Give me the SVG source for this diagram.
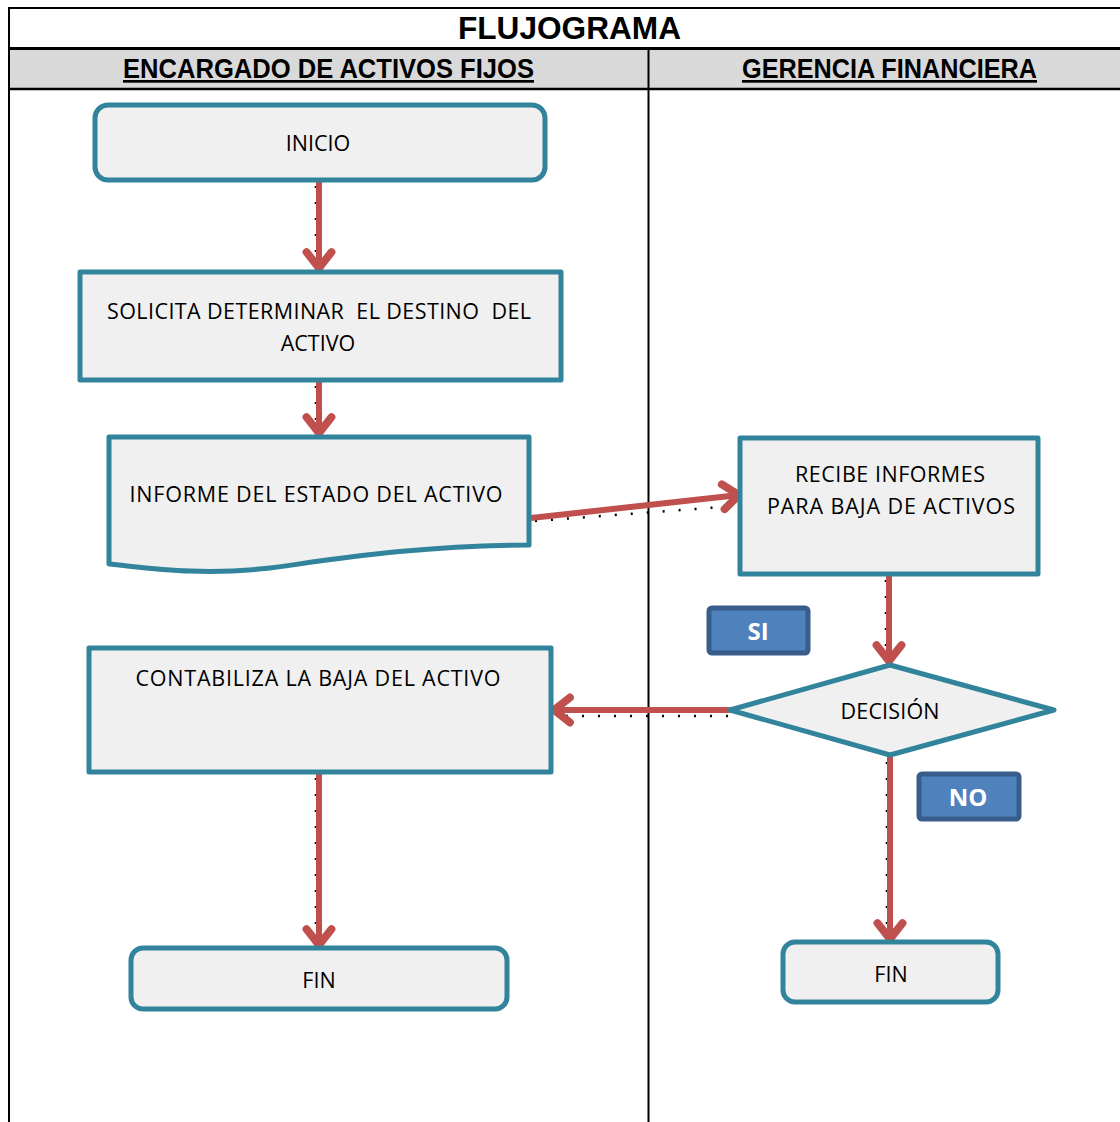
<svg xmlns="http://www.w3.org/2000/svg" width="1120" height="1122" viewBox="0 0 1120 1122">
  <style>
    .frame { fill: none; stroke: #000; stroke-width: 2; }
    .head { fill: #d9d9d9; stroke: none; }
    .title { font-family: "Liberation Sans", Arial, sans-serif; font-weight: bold; font-size: 32px; fill: #000; }
    .lane { font-family: "Liberation Sans", Arial, sans-serif; font-weight: bold; font-size: 27px; fill: #000; text-decoration: underline; }
    .box { fill: #f0f0f0; stroke: #31849b; stroke-width: 5; stroke-linejoin: round; }
    .txt { font-family: "Open Sans", "Liberation Sans", sans-serif; font-size: 21.5px; fill: #000; text-anchor: middle; }
    .tag { fill: #4f81bd; stroke: #385d8a; stroke-width: 5; }
    .tagtxt { font-family: "Open Sans", "Liberation Sans", sans-serif; font-weight: bold; font-size: 24px; fill: #fff; text-anchor: middle; }
    .flow { fill: none; stroke: #c0504d; stroke-width: 6; marker-end: url(#arrow); }
    .shade { fill: none; stroke: #000; stroke-width: 2.5; stroke-dasharray: 2 14; }
  </style>
  <defs>
    <marker id="arrow" markerUnits="userSpaceOnUse" markerWidth="34" markerHeight="34" viewBox="-3 -15 22 30" refX="15" refY="0" orient="auto">
      <path d="M1,-11 L15,0 L1,11" fill="none" stroke="#c0504d" stroke-width="7" stroke-linecap="round" stroke-linejoin="round"/>
    </marker>
  </defs>

  <!-- swimlane table -->
  <g id="table">
    <rect class="head" x="10" y="49" width="1112" height="40"/>
    <line class="frame" x1="9" y1="8" x2="1122" y2="8"/>
    <line class="frame" x1="9" y1="7" x2="9" y2="1122"/>
    <line x1="9" y1="48.5" x2="1122" y2="48.5" stroke="#000" stroke-width="3"/>
    <line x1="9" y1="89" x2="1122" y2="89" stroke="#000" stroke-width="2.5"/>
    <line class="frame" x1="648.5" y1="49" x2="648.5" y2="1122"/>
    <text class="title" x="458" y="39" textLength="223" lengthAdjust="spacingAndGlyphs">FLUJOGRAMA</text>
    <text class="lane" x="123" y="78" textLength="411" lengthAdjust="spacingAndGlyphs">ENCARGADO DE ACTIVOS FIJOS</text>
    <text class="lane" x="742" y="78" textLength="295" lengthAdjust="spacingAndGlyphs">GERENCIA FINANCIERA</text>
  </g>

  <!-- connectors with dotted drop shade -->
  <g id="connectors">
    <line class="shade" x1="316" y1="186" x2="316" y2="262"/>
    <line class="shade" x1="316" y1="386" x2="316" y2="428"/>
    <line class="shade" x1="535" y1="521" x2="735" y2="506"/>
    <line class="shade" x1="886" y1="580" x2="886" y2="656"/>
    <line class="shade" x1="728" y1="716" x2="560" y2="716"/>
    <line class="shade" x1="887" y1="762" x2="887" y2="932"/>
    <line class="shade" x1="316" y1="778" x2="316" y2="938"/>

    <path class="flow" d="M319,181 L319,268"/>
    <path class="flow" d="M319,381 L319,433"/>
    <path class="flow" d="M531,518 L739,495"/>
    <path class="flow" d="M889,575 L889,661"/>
    <path class="flow" d="M730,710 L554,710"/>
    <path class="flow" d="M890,756 L890,939"/>
    <path class="flow" d="M319,773 L319,945"/>
  </g>

  <g id="inicio">
    <rect class="box" x="95" y="105" width="450" height="75" rx="13"/>
    <text class="txt" x="318" y="151">INICIO</text>
  </g>

  <g id="solicita">
    <rect class="box" x="80" y="272" width="481" height="108"/>
    <text class="txt" x="319" y="319" textLength="424" lengthAdjust="spacing" xml:space="preserve">SOLICITA DETERMINAR  EL DESTINO  DEL</text>
    <text class="txt" x="318" y="351">ACTIVO</text>
  </g>

  <g id="informe">
    <path class="box" d="M109,437 L529,437 L529,545 C420,545 330,560 270,568 C200,576 150,568 109,564 Z"/>
    <text class="txt" x="316" y="502" textLength="373" lengthAdjust="spacing">INFORME DEL ESTADO DEL ACTIVO</text>
  </g>

  <g id="recibe">
    <rect class="box" x="740" y="438" width="298" height="136"/>
    <text class="txt" x="890" y="482" textLength="190" lengthAdjust="spacing">RECIBE INFORMES</text>
    <text class="txt" x="891" y="514" textLength="248" lengthAdjust="spacing">PARA BAJA DE ACTIVOS</text>
  </g>

  <g id="si">
    <rect class="tag" x="709" y="608" width="99" height="45" rx="3"/>
    <text class="tagtxt" x="758" y="640">SI</text>
  </g>

  <g id="decision">
    <path class="box" d="M730,710 L890,665 L1054,710 L890,755 Z"/>
    <text class="txt" x="890" y="719" textLength="99" lengthAdjust="spacing">DECISIÓN</text>
  </g>

  <g id="no">
    <rect class="tag" x="919" y="774" width="100" height="45" rx="3"/>
    <text class="tagtxt" x="968" y="806">NO</text>
  </g>

  <g id="contabiliza">
    <rect class="box" x="89" y="648" width="462" height="124"/>
    <text class="txt" x="318" y="686" textLength="365" lengthAdjust="spacing">CONTABILIZA LA BAJA DEL ACTIVO</text>
  </g>

  <g id="fin-izq">
    <rect class="box" x="131" y="948" width="376" height="61" rx="12"/>
    <text class="txt" x="319" y="988">FIN</text>
  </g>

  <g id="fin-der">
    <rect class="box" x="783" y="942" width="215" height="60" rx="12"/>
    <text class="txt" x="891" y="982">FIN</text>
  </g>
</svg>
